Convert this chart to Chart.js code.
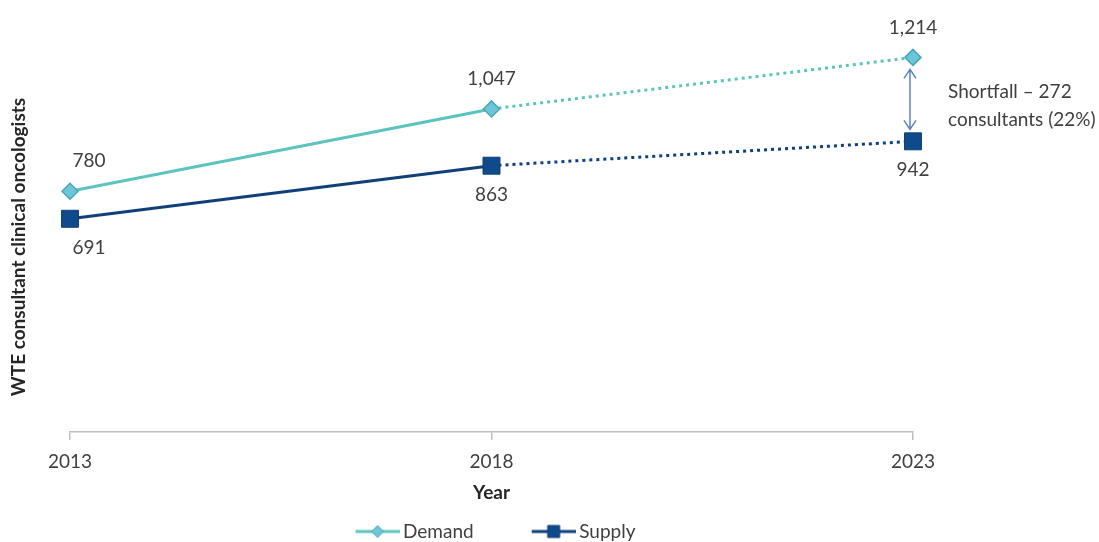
<!DOCTYPE html>
<html>
<head>
<meta charset="utf-8">
<script src="https://cdn.jsdelivr.net/npm/chart.js@4.4.1/dist/chart.umd.min.js"></script>
<style>
  html, body { margin: 0; padding: 0; background: #fff; overflow: hidden; }
</style>
</head>
<body>
<canvas id="chart" width="1099" height="551"></canvas>
<script>
;(function (window, document, Chart) {
  // data
  var years = ['2013', '2018', '2023']
  var demand = [780, 1047, 1214]
  var supply = [691, 863, 942]
  var seriesNames = ['Demand', 'Supply']
  var xTitle = 'Year'
  var yTitle = 'WTE consultant clinical oncologists'

  var FONT = 'Lato, "Open Sans", sans-serif'
  var TEXT = '#404040'
  var demandLine = '#5cc4be'
  var demandFill = '#6dc6d8'
  var demandEdge = '#49a7b6'
  var supplyLine = '#10407a'
  var supplyFill = '#0f4a8a'

  // projected part (2018 -> 2023) is dotted
  function dotted (ctx) {
    return ctx.p0DataIndex >= 1 ? [3, 4] : undefined
  }

  // legend icon: short line with the marker in the middle,
  // pushed to the right end so it sits close to its text
  var ICON_BOX = 86
  function legendIcon (line, fill, edge, diamond) {
    var c = document.createElement('canvas')
    c.width = ICON_BOX + 12
    c.height = 18
    var g = c.getContext('2d')
    var x1 = c.width - 44
    var cx = c.width - 22
    g.strokeStyle = line
    g.lineWidth = 3
    g.beginPath()
    g.moveTo(x1, 9)
    g.lineTo(c.width, 9)
    g.stroke()
    g.fillStyle = fill
    g.strokeStyle = edge
    g.lineWidth = 1
    g.beginPath()
    if (diamond) {
      g.moveTo(cx, 3); g.lineTo(cx + 6, 9); g.lineTo(cx, 15); g.lineTo(cx - 6, 9)
    } else {
      g.rect(cx - 6, 3, 12, 12)
    }
    g.closePath()
    g.fill()
    g.stroke()
    return c
  }
  var legendIcons = [
    legendIcon(demandLine, demandFill, demandEdge, true),
    legendIcon(supplyLine, supplyFill, supplyLine, false)
  ]

  // value labels above demand, below supply
  var labelPlugin = {
    id: 'valueLabels',
    afterLayout: function (chart) {
      // the icon boxes carry empty space on the left, re-centre the legend
      chart.legend.left -= 20
      chart.legend.right -= 20
    },
    afterDatasetsDraw: function (chart) {
      var ctx = chart.ctx
      ctx.save()
      ctx.font = '19px ' + FONT
      ctx.fillStyle = TEXT
      ctx.textAlign = 'center'
      ctx.textBaseline = 'middle'
      chart.data.datasets.forEach(function (ds, di) {
        var meta = chart.getDatasetMeta(di)
        meta.data.forEach(function (pt, i) {
          var dx = i === 0 ? 19 : 0
          var dy = di === 0 ? -30 : 29
          ctx.fillText(ds.data[i].toLocaleString('en-US'), pt.x + dx, pt.y + dy)
        })
      })
      ctx.restore()
    }
  }

  // shortfall arrow + note at the last year, y axis title
  var notePlugin = {
    id: 'shortfall',
    afterDraw: function (chart) {
      var ctx = chart.ctx
      var xs = chart.scales.x
      var ys = chart.scales.y
      var last = years.length - 1
      var x = xs.getPixelForValue(last) - 3
      var yTop = ys.getPixelForValue(demand[last]) + 12
      var yBot = ys.getPixelForValue(supply[last]) - 12
      ctx.save()
      ctx.strokeStyle = '#5d84bf'
      ctx.lineWidth = 1.5
      ctx.beginPath()
      ctx.moveTo(x, yTop); ctx.lineTo(x, yBot)
      ctx.moveTo(x - 6, yTop + 9); ctx.lineTo(x, yTop); ctx.lineTo(x + 6, yTop + 9)
      ctx.moveTo(x - 6, yBot - 9); ctx.lineTo(x, yBot); ctx.lineTo(x + 6, yBot - 9)
      ctx.stroke()

      var gap = demand[last] - supply[last]
      var pct = Math.round(gap / demand[last] * 100)
      var mid = (yTop + yBot) / 2
      ctx.font = '19px ' + FONT
      ctx.fillStyle = TEXT
      ctx.textAlign = 'left'
      ctx.textBaseline = 'middle'
      ctx.fillText('Shortfall \u2013 ' + gap, x + 38, mid - 7)
      ctx.fillText('consultants (' + pct + '%)', x + 38, mid + 21)

      ctx.translate(19, 247)
      ctx.rotate(-Math.PI / 2)
      ctx.font = 'bold 19px ' + FONT
      ctx.fillStyle = '#262626'
      ctx.textAlign = 'center'
      ctx.fillText(yTitle, 0, 0)
      ctx.restore()
    }
  }

  var chart = new Chart(document.getElementById('chart').getContext('2d'), {
    type: 'line',
    data: {
      labels: years,
      datasets: [
        {
          label: seriesNames[0],
          data: demand,
          borderColor: demandLine,
          borderWidth: 3,
          pointStyle: 'rectRot',
          pointRadius: 8,
          pointBackgroundColor: demandFill,
          pointBorderColor: demandEdge,
          pointBorderWidth: 1.5,
          segment: { borderDash: dotted },
          clip: false
        },
        {
          label: seriesNames[1],
          data: supply,
          borderColor: supplyLine,
          borderWidth: 3,
          pointStyle: 'rect',
          pointRadius: 12,
          pointBackgroundColor: supplyFill,
          pointBorderColor: supplyLine,
          pointBorderWidth: 1,
          segment: { borderDash: dotted },
          clip: false
        }
      ]
    },
    options: {
      responsive: false,
      animation: false,
      layout: { autoPadding: false, padding: { left: 70, right: 186, top: 0, bottom: 0 } },
      scales: {
        x: {
          grid: { drawOnChartArea: false, tickLength: 8, color: '#bfbfbf', lineWidth: 1.5 },
          border: { color: '#bfbfbf', width: 1.5 },
          ticks: { padding: 12, color: TEXT, font: { family: FONT, size: 19, lineHeight: 1 } },
          title: {
            display: true,
            text: xTitle,
            color: '#262626',
            font: { family: FONT, size: 19, weight: 'bold', lineHeight: 1 },
            padding: { top: 0, bottom: 10 }
          }
        },
        y: { display: false, min: 0, max: 1400 }
      },
      plugins: {
        tooltip: { enabled: false },
        legend: {
          position: 'bottom',
          labels: {
            usePointStyle: true,
            pointStyleWidth: ICON_BOX,
            padding: 10,
            color: TEXT,
            font: { family: FONT, size: 19 },
            generateLabels: function (c) {
              var items = Chart.defaults.plugins.legend.labels.generateLabels(c)
              items.forEach(function (it, i) { it.pointStyle = legendIcons[i] })
              return items
            }
          }
        }
      }
    },
    plugins: [labelPlugin, notePlugin]
  })

  window.chart = chart
})(window, document, Chart);
</script>
</body>
</html>
